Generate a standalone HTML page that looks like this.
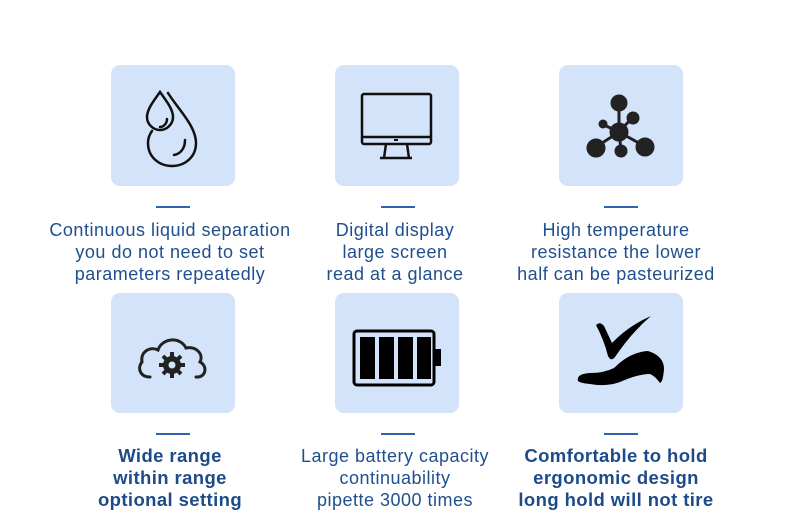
<!DOCTYPE html>
<html><head><meta charset="utf-8"><style>
body{margin:0;width:790px;height:525px;background:#fff;position:relative;overflow:hidden;font-family:"Liberation Sans","DejaVu Sans",sans-serif}
.box{position:absolute;width:124px;height:121px;background:#d3e3f9;border-radius:9px}
.ul{position:absolute;width:34px;height:2px;background:#2f63b0}
.t{position:absolute;width:300px;text-align:center;color:#1f4f8f;font-size:18px;line-height:22px;letter-spacing:0.5px}
.b{font-weight:bold;font-size:18.5px;letter-spacing:0.4px;color:#1d4b8a}
svg{position:absolute;left:0;top:0}
</style></head><body>
<div class="box" style="left:111px;top:65px"></div>
<div class="box" style="left:335px;top:65px"></div>
<div class="box" style="left:559px;top:65px"></div>
<div class="box" style="left:111px;top:293px;height:120px"></div>
<div class="box" style="left:335px;top:293px;height:120px"></div>
<div class="box" style="left:559px;top:293px;height:120px"></div>
<div class="ul" style="left:156px;top:206px"></div>
<div class="ul" style="left:381px;top:206px"></div>
<div class="ul" style="left:604px;top:206px"></div>
<div class="ul" style="left:156px;top:433px"></div>
<div class="ul" style="left:381px;top:433px"></div>
<div class="ul" style="left:604px;top:433px"></div>
<div class="t" style="left:20px;top:219px">Continuous liquid separation<br>you do not need to set<br>parameters repeatedly</div>
<div class="t" style="left:245px;top:219px">Digital display<br>large screen<br>read at a glance</div>
<div class="t" style="left:466px;top:219px">High temperature<br>resistance the lower<br>half can be pasteurized</div>
<div class="t b" style="left:20px;top:445px">Wide range<br>within range<br>optional setting</div>
<div class="t" style="left:245px;top:445px">Large battery capacity<br>continuability<br>pipette 3000 times</div>
<div class="t b" style="left:466px;top:445px">Comfortable to hold<br>ergonomic design<br>long hold will not tire</div>
<svg width="790" height="525" viewBox="0 0 790 525">
<g fill="none" stroke="#111" stroke-width="2.5" stroke-linecap="round">
<path d="M160 92 C152 103 147 110 147 117 C147 124 153 130 160 130 C167 130 173 124 173 117 C173 110 168 103 160 92Z"/>
<path d="M168 93 C178 109 196 126 196 143 C196 157 185 166 172 166 C159 166 148 157 148 143 C148 139 149 135 152 131"/>
<path d="M167 119 C167 123 164 127 160 127"/>
<path d="M185 140 C185 149 180 154 174 155"/>
</g>
<g fill="none" stroke="#111" stroke-width="2.5">
<rect x="362" y="94" width="69" height="50" rx="2"/>
<line x1="362" y1="137" x2="431" y2="137"/>
<path d="M386 144 L384 158 M407 144 L409 158 M380 158 L412 158"/>
</g>
<rect x="394" y="139" width="4" height="2" fill="#111"/>
<g fill="#222" stroke="#222" stroke-width="3">
<line x1="619" y1="103" x2="619" y2="132"/><line x1="619" y1="132" x2="632" y2="118"/>
<line x1="619" y1="132" x2="604" y2="125"/><line x1="619" y1="132" x2="596" y2="147"/>
<line x1="619" y1="132" x2="646" y2="147"/><line x1="619" y1="132" x2="621" y2="150"/>
<circle cx="619" cy="103" r="7"/><circle cx="633" cy="118" r="5"/><circle cx="603" cy="124" r="3"/>
<circle cx="619" cy="132" r="8"/><circle cx="596" cy="148" r="8"/><circle cx="645" cy="147" r="8"/><circle cx="621" cy="151" r="5"/>
</g>
<path d="M150 377 C140 377 137 368 142 362 C140 352 150 346 158 350 C162 338 180 336 186 348 C196 346 204 354 200 362 C208 366 206 378 196 377" fill="none" stroke="#222" stroke-width="3" stroke-linecap="round"/>
<circle cx="172" cy="365" r="13" fill="#d3e3f9"/>
<g fill="#222"><circle cx="172" cy="365" r="9"/>
<g stroke="#222" stroke-width="4"><line x1="172" y1="352" x2="172" y2="378"/><line x1="159" y1="365" x2="185" y2="365"/><line x1="163" y1="356" x2="181" y2="374"/><line x1="181" y1="356" x2="163" y2="374"/></g>
<circle cx="172" cy="365" r="3.5" fill="#d3e3f9"/></g>
<rect x="354" y="331" width="80" height="54" rx="3" fill="none" stroke="#000" stroke-width="3"/>
<rect x="435" y="349" width="6" height="17" fill="#000"/>
<g fill="#000"><rect x="360" y="337" width="15" height="42"/><rect x="379" y="337" width="15" height="42"/><rect x="398" y="337" width="15" height="42"/><rect x="417" y="337" width="14" height="42"/></g>
<path d="M596 325 Q600 321 604 326 L612 343 Q628 326 651 316 Q632 332 615 357 Q611 362 608 356 Q604 340 596 325Z" fill="#000"/>
<path d="M578 381 Q576 374 590 373 Q604 373 614 368 Q630 352 648 351 Q664 356 664 369 Q663 382 660 383 Q655 376 650 374 Q638 374 620 382 Q606 387 590 384 Q580 383 578 381Z" fill="#000"/>
</svg>
</body></html>
